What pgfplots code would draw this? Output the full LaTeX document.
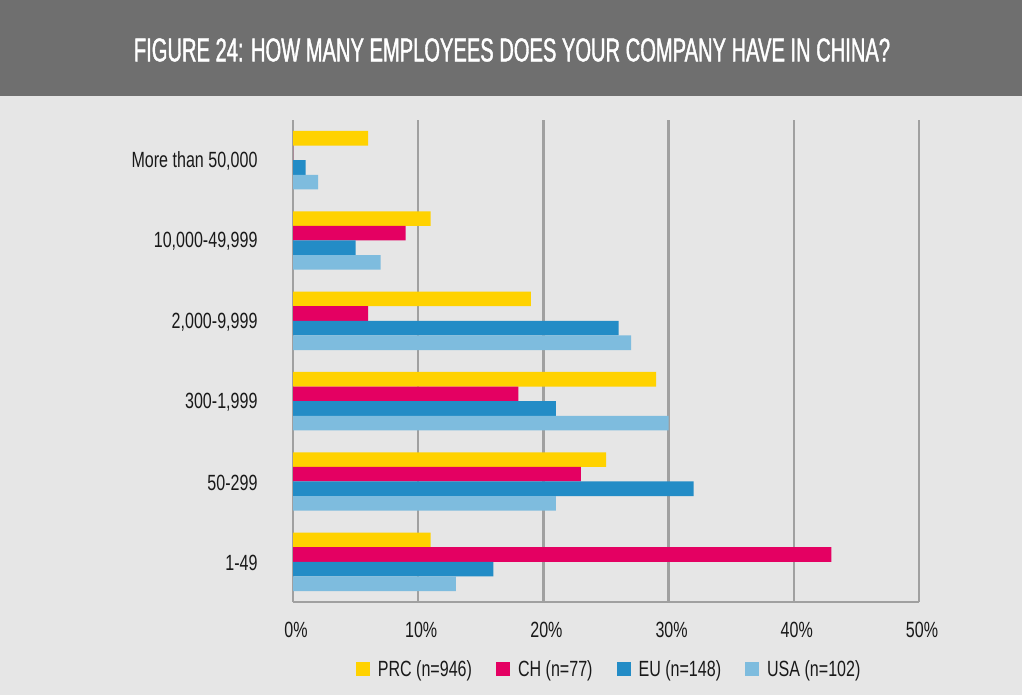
\documentclass[border=0pt]{standalone}
\usepackage{fontspec}
\setmainfont{Liberation Sans}[FakeStretch=0.73]
\newfontfamily\titlefont{Liberation Sans}[FakeStretch=0.61,FakeBold=1.2]
\usepackage{pgfplots}
\pgfplotsset{compat=1.18}
\definecolor{prc}{RGB}{255,210,0}
\definecolor{ch}{RGB}{228,0,98}
\definecolor{eu}{RGB}{35,140,198}
\definecolor{usa}{RGB}{126,188,222}
\definecolor{bg}{RGB}{230,230,230}
\definecolor{band}{RGB}{111,111,111}
\definecolor{gridc}{RGB}{160,160,160}
\definecolor{txt}{RGB}{25,25,25}
\begin{document}
\begin{tikzpicture}[x=1pt,y=1pt]
\useasboundingbox (0,0) rectangle (1022,695);
\fill[bg] (0,0) rectangle (1022,695);
\fill[band] (0,599) rectangle (1022,695);
\node[text=white, font=\titlefont\fontsize{33}{36}\selectfont] at (512,645) {FIGURE 24: HOW MANY EMPLOYEES DOES YOUR COMPANY HAVE IN CHINA?};
\begin{axis}[
  at={(293pt,93pt)}, anchor=south west,
  scale only axis, width=626pt, height=482pt,
  xmin=0, xmax=50, ymin=-0.5, ymax=5.5,
  xbar, bar width=14.6pt,
  xtick={0,10,...,50},
  xticklabel={\pgfmathprintnumber{\tick}\%},
  ytick={0,...,5},
  yticklabels={{1-49},{50-299},{300-1,999},{2,000-9,999},{10,000-49,999},{More than 50,000}},
  xmajorgrids, major grid style={gridc, line width=2.5pt},
  axis lines=left, axis line style={gridc, line width=2.5pt, -},
  major tick length=0pt, tick style={draw=none},
  /pgf/number format/assume math mode=true,
  ticklabel style={font=\fontsize{22}{24}\selectfont, text=txt},
  xticklabel style={yshift=-17pt, xshift=3pt},
  yticklabel style={xshift=-32pt, yshift=-1pt},
  legend columns=4,
  legend style={draw=none, fill=none, at={(0.505,-0.139)}, anchor=center,
    font=\fontsize{22}{24}\selectfont, text=txt,
    /tikz/every odd column/.append style={column sep=6pt},
    /tikz/every even column/.append style={column sep=22pt}},
  legend image code/.code={\fill[#1] (0pt,-7pt) rectangle (14pt,7pt);},
]
\addplot[fill=prc, draw=none, bar shift=21.9pt] coordinates {(11,0) (25,1) (29,2) (19,3) (11,4) (6,5)};
\addplot[fill=ch, draw=none, bar shift=7.3pt] coordinates {(43,0) (23,1) (18,2) (6,3) (9,4) (0,5)};
\addplot[fill=eu, draw=none, bar shift=-7.3pt] coordinates {(16,0) (32,1) (21,2) (26,3) (5,4) (1,5)};
\addplot[fill=usa, draw=none, bar shift=-21.9pt] coordinates {(13,0) (21,1) (30,2) (27,3) (7,4) (2,5)};
\legend{PRC (n=946), CH (n=77), EU (n=148), USA (n=102)}
\end{axis}
\end{tikzpicture}
\end{document}
